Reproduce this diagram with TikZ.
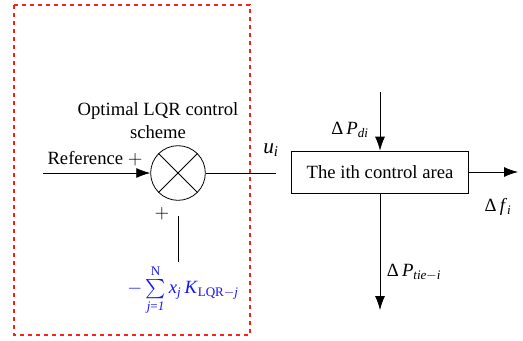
\documentclass[tikz,border=0pt]{standalone}
\usepackage{amsmath}
\usepackage{fontspec}
\setmainfont{Liberation Serif}
\usepackage{tikz}
\usetikzlibrary{arrows.meta}
\definecolor{lqrred}{RGB}{255,30,30}
\definecolor{lqrblue}{RGB}{20,20,255}
\newcommand{\vit}[1]{\textit{#1}}
\newcommand{\vsub}[1]{\textsubscript{#1}}

\tikzset{
  sigtip/.style={-{Latex[length=10.5pt,width=7.5pt]}},
  sumcirc/.style={draw, circle, minimum size=41pt, inner sep=0pt},
  areabox/.style={draw, rectangle, minimum width=133pt, minimum height=31.5pt, inner sep=0pt},
  lbl/.style={inner sep=0pt}
}

\begin{document}
\begin{tikzpicture}[x=0.75pt, y=-0.75pt, font=\fontsize{14}{16}\selectfont, line width=0.6pt]
\useasboundingbox (0,0) rectangle (523,340);
% controller frame
\draw[lqrred, dashed, line width=0.8pt] (14,5) rectangle (250,335);
% summing junction and plant
\node[sumcirc] (sumj) at (178,173) {};
\draw (sumj.north west) -- (sumj.south east);
\draw (sumj.north east) -- (sumj.south west);
\node[areabox] (area) at (380,172) {The ith control area};
% end points
\coordinate (refin) at (43,173);
\coordinate (uend) at (276,173);
\coordinate (pdtop) at (380,92);
\coordinate (fend) at (518,172);
\coordinate (ptend) at (380,310);
\coordinate (fbtop) at (178,216);
\coordinate (fbbot) at (178,262);
% signals
\draw[sigtip] (refin) -- (sumj);
\draw (sumj) -- (uend);
\draw[sigtip] (pdtop) -- (area.north);
\draw[sigtip] (area.east) -- (fend);
\draw[sigtip] (area.south) -- (ptend);
\draw (fbtop) -- (fbbot);
% labels
\node[lbl] (ttl1) at (158,111) {Optimal LQR control};
\node[lbl] (ttl2) at (158,132) {scheme};
\node[lbl] (reflbl) at (95,159) {Reference $+$};
\node[lbl] (pluslbl) at (162,214) {$+$};
\node[lbl, font=\fontsize{16}{18}\selectfont] (ulbl) at (271,150) {\vit{u}\vsub{\vit{i}}};
\node[lbl, text=lqrblue] (fblbl) at (183,290) {$-$\,$\sum\limits_{\text{\vit{j}=\vit{1}}}^{\text{N}}$\,\vit{x}\vsub{\vit{j}}\,\vit{K}\vsub{LQR$-$\vit{j}}};
\node[lbl] (pdlbl) at (350,130) {Δ\,\vit{P}\vsub{\vit{di}}};
\node[lbl] (flbl) at (498,207) {Δ\,\vit{f}\vsub{\vit{i}}};
\node[lbl] (ptlbl) at (414,272) {Δ\,\vit{P}\vsub{\vit{tie}$-$\vit{i}}};
\end{tikzpicture}
\end{document}
